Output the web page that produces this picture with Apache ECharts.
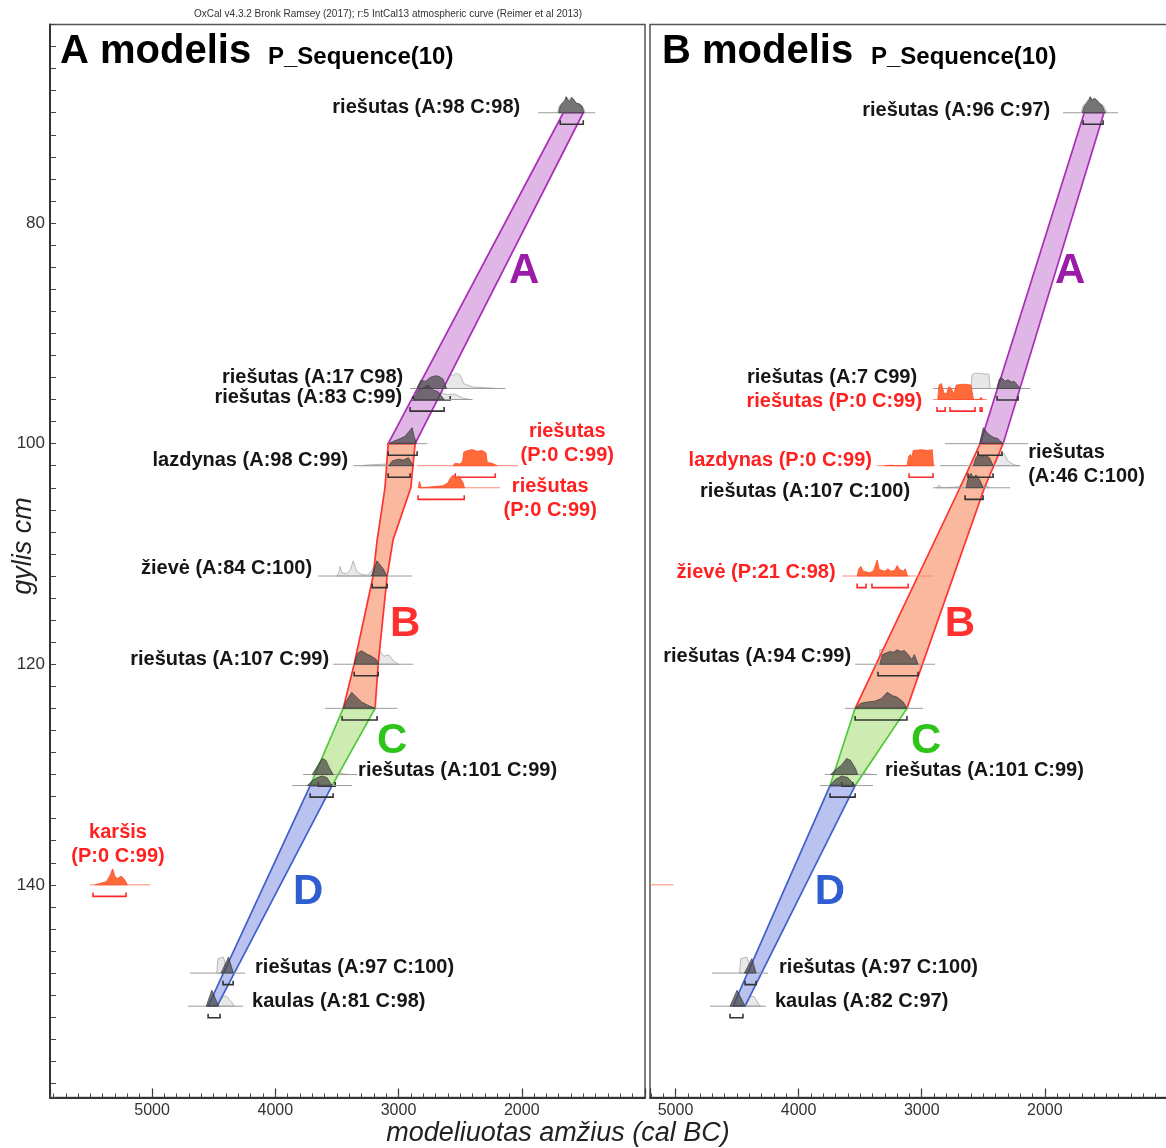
<!DOCTYPE html>
<html><head><meta charset="utf-8">
<script src="https://cdn.jsdelivr.net/npm/echarts@6/dist/echarts.min.js"></script>
<style>html,body{margin:0;padding:0;background:#fff}#c{width:1166px;height:1148px}</style>
</head><body><div id="c"></div>
<script>
// ---------- Tick labels / axes ----------
const xTickLabels = [5000, 4000, 3000, 2000];
const yTickLabels = [80, 100, 120, 140];

// ---------- Model A (left panel) ----------
const mA_names = ['riešutas (A:98 C:98)', 'riešutas (A:17 C98)', 'riešutas (A:83 C:99)', '', 'lazdynas (A:98 C:99)',
  'riešutas\n(P:0 C:99)', 'riešutas\n(P:0 C:99)', 'žievė (A:84 C:100)', 'riešutas (A:107 C:99)', '',
  'riešutas (A:101 C:99)', '', 'riešutas (A:97 C:100)', 'kaulas (A:81 C:98)', 'karšis\n(P:0 C:99)'];
const mA_outlier = [0,0,0,0,0,1,1,0,0,0,0,0,0,0,1];
const mA_depths = [70,95,96,100,102,102,104,112,120,124,130,131,148,151,140];
const mA_base = [[1867,1404],[2906,2134],[2889,2400],[3084,2767],[3368,2881],[2849,2029],[2841,2175],[3652,2889],
  [3531,2881],[3596,3011],[3774,3336],[3863,3376],[4692,4245],[4708,4261],[5503,5016]];
const mA_labelPos = [[2013,69.5],[2962,94.0],[2970,95.8],null,[3409,101.5],[1631,100],[1769,105],[3701,111.3],
  [3563,119.6],null,[3328,129.6],null,[4164,147.5],[4188,150.6],[5276,136.3]];
const mA_labelAlign = ['right','right','right','','right','center','center','right','right','','left','','left','left','center'];
const mA_unmod = [
  [[1710,0],[1695,.45],[1675,.6],[1650,.8],[1640,1],[1622,.8],[1600,.95],[1580,.85],[1555,.6],[1525,.5],[1500,.3],[1485,0]],
  [[2850,0],[2800,.3],[2720,.5],[2650,.45],[2590,.9],[2560,.8],[2530,.95],[2500,.85],[2470,.3],[2400,.1],[2300,.05],[2200,0]],
  [[2880,0],[2820,.5],[2760,.8],[2700,.5],[2600,.3],[2550,.35],[2480,.1],[2420,0]],
  null,
  [[3300,0],[3250,.05],[3100,.1],[3050,.4],[2980,.5],[2920,.6],[2890,.2],[2870,0]],
  null, null,
  [[3500,0],[3480,.3],[3474,.6],[3460,.2],[3420,.15],[3390,.4],[3368,.95],[3340,.3],[3300,.1],[3250,.05],[3220,.3],[3180,.9],[3150,.6],[3120,.3],[3090,0]],
  [[3360,0],[3330,.7],[3290,.85],[3250,.5],[3200,.6],[3160,.9],[3120,.5],[3080,.6],[3040,.2],[3000,0]],
  null,
  [[3680,0],[3640,.6],[3600,.8],[3560,.9],[3530,.3],[3450,.05],[3400,0]],
  null,
  [[4475,0],[4465,.9],[4420,1],[4400,.3],[4380,0]],
  [[4500,0],[4480,.5],[4440,.55],[4400,.65],[4360,.3],[4330,0]],
  null
];
const mA_mod = [
  [[1700,0],[1688,.4],[1670,.6],[1650,.75],[1640,1],[1625,.8],[1610,.7],[1595,.95],[1580,.85],[1560,.6],[1530,.55],[1510,.4],[1495,0]],
  [[2850,0],[2820,.5],[2780,.45],[2740,.7],[2700,.8],[2670,.75],[2640,.6],[2610,0]],
  [[2880,0],[2840,.6],[2800,.7],[2760,.9],[2720,.6],[2680,.5],[2630,0]],
  [[3075,0],[3040,.15],[2990,.3],[2950,.45],[2910,.8],[2890,1],[2875,.5],[2855,0]],
  [[3080,0],[3050,.3],[3000,.4],[2960,.35],[2920,.5],[2880,0]],
  [[2560,0],[2540,.15],[2500,.1],[2480,.3],[2470,.85],[2440,.95],[2400,1],[2360,.9],[2320,.95],[2290,.8],[2280,.2],[2240,.15],[2200,0]],
  [[2840,0],[2830,.4],[2815,0],[2750,.05],[2640,.12],[2600,.3],[2580,.6],[2555,.8],[2530,.6],[2510,.75],[2490,.5],[2475,.3],[2465,0]],
  [[3220,0],[3200,.4],[3175,.95],[3150,.7],[3120,.4],[3095,0]],
  [[3360,0],[3330,.7],[3300,.85],[3260,.65],[3220,.5],[3180,.3],[3160,0]],
  [[3450,0],[3420,.5],[3380,1],[3340,.7],[3300,.4],[3250,.2],[3190,0]],
  [[3700,0],[3660,.5],[3620,1],[3590,.9],[3560,.4],[3530,0]],
  [[3740,0],[3700,.3],[3660,.5],[3620,.6],[3580,.5],[3540,0]],
  [[4440,0],[4380,1],[4340,0]],
  [[4560,0],[4515,1],[4460,0]],
  [[5460,0],[5420,.1],[5370,.2],[5340,.6],[5320,1],[5300,.5],[5280,.4],[5250,.55],[5220,.3],[5200,0]]
];
const mA_brackets = [[[1688,1501]],[[2881,2581]],[[2906,2630]],[[3084,2849]],[[3084,2906]],[[2540,2215]],[[2841,2467]],
  [[3214,3092]],[[3360,3165]],[[3458,3174]],[[3652,3514]],[[3717,3531]],[[4424,4342]],[[4545,4448]],[[5479,5211]]];
// bands: [depth, left (older) edge, right (younger) edge]
const mA_bandA = [[70,1663,1501],[100,3084,2865]];
const mA_bandB = [[100,3084,2865],[104,3110,2900],[108.7,3173,3044],[112,3206,3092],[120,3360,3165],[124,3449,3190]];
const mA_bandC = [[124,3449,3190],[131,3717,3539]];
const mA_bandD = [[131,3717,3539],[151,4545,4472]];
const mA_letterPos = [[1980,84.4],[2946,116.4],[3052,127],[3734,140.7]];

// ---------- Model B (right panel) ----------
const mB_names = ['riešutas (A:96 C:97)', 'riešutas (A:7 C99)', 'riešutas (P:0 C:99)', '', 'lazdynas (P:0 C:99)',
  'riešutas\n(A:46 C:100)', 'riešutas (A:107 C:100)', 'žievė (P:21 C:98)', 'riešutas (A:94 C:99)', '',
  'riešutas (A:101 C:99)', '', 'riešutas (A:97 C:100)', 'kaulas (A:82 C:97)', ''];
const mB_outlier = [0,0,1,0,1,0,0,1,0,0,0,0,0,0,1];
const mB_depths = [70,95,96,100,102,102,104,112,120,124,130,131,148,151,140];
const mB_base = [[1852,1405],[2908,2120],[2908,2470],[2811,2136],[3363,2892],[2851,2201],[2908,2283],[3647,2908],
  [3541,2892],[3623,2989],[3785,3363],[3826,3396],[4703,4249],[4720,4265],[5503,5016]];
const mB_labelPos = [[1958,69.8],[3038,94.0],[2997,96.2],null,[3404,101.5],[2136,101.9],[3095,104.3],[3700,111.7],
  [3574,119.3],null,[3299,129.6],null,[4159,147.5],[4192,150.6],null];
const mB_labelAlign = ['right','right','right','','right','left','right','right','right','','left','','left','left',''];
const mB_unmod = [
  [[1705,0],[1690,.45],[1670,.6],[1650,.8],[1635,1],[1620,.8],[1600,.9],[1580,.8],[1555,.6],[1525,.45],[1495,0]],
  [[2600,0],[2592,.85],[2570,.95],[2530,.95],[2490,.9],[2455,.9],[2445,0]],
  null, null, null,
  [[2560,0],[2520,.5],[2470,.6],[2420,.55],[2380,.75],[2330,.75],[2300,.3],[2250,.05],[2200,0]],
  [[2880,0],[2860,.15],[2840,0],[2700,.05],[2650,.5],[2620,.75],[2580,.7],[2540,.8],[2500,.3],[2450,0]],
  null,
  [[3350,0],[3340,.9],[3300,.95],[3260,.9],[3220,.95],[3180,.85],[3140,.9],[3100,.5],[3050,.6],[3030,0]],
  null,
  [[3720,0],[3680,.5],[3630,.9],[3600,1],[3560,.9],[3520,.3],[3450,.05],[3400,0]],
  null,
  [[4480,0],[4470,.9],[4420,1],[4390,.3],[4370,0]],
  [[4500,0],[4470,.5],[4420,.6],[4360,.6],[4330,.2],[4310,0]],
  null
];
const mB_mod = [
  [[1695,0],[1680,.4],[1660,.6],[1640,.8],[1630,1],[1615,.75],[1598,.9],[1580,.8],[1560,.6],[1535,.45],[1510,0]],
  [[2390,0],[2370,.6],[2350,.65],[2320,.45],[2300,.55],[2270,.4],[2250,.45],[2220,.2],[2200,0]],
  [[2870,0],[2860,.9],[2840,1],[2820,.4],[2800,.35],[2780,.8],[2760,.7],[2740,.35],[2720,.9],[2680,.95],[2640,.95],[2600,.9],[2580,0],[2530,0],[2520,.15],[2505,0]],
  [[2530,0],[2500,1],[2460,.6],[2420,.4],[2380,.3],[2340,0]],
  [[3300,0],[3250,.03],[3200,0],[3120,0],[3105,.6],[3090,.7],[3080,.5],[3070,.95],[3000,1],[2950,.95],[2915,1],[2905,0]],
  [[2580,0],[2560,.5],[2540,.7],[2510,.6],[2480,.65],[2450,.5],[2420,0]],
  [[2640,0],[2620,.7],[2600,.9],[2580,.6],[2560,.8],[2530,.5],[2500,0]],
  [[3525,0],[3510,.45],[3495,.6],[3475,.3],[3420,.2],[3390,.35],[3375,.7],[3362,1],[3345,.4],[3300,.3],[3275,.45],[3250,.3],[3220,.35],[3200,.65],[3180,.4],[3150,.3],[3135,.45],[3115,0]],
  [[3340,0],[3320,.6],[3290,.7],[3260,.8],[3230,.75],[3200,.9],[3170,.8],[3140,.85],[3110,.6],[3080,.3],[3060,.6],[3040,.2],[3030,0]],
  [[3540,0],[3500,.3],[3440,.4],[3380,.45],[3330,.6],[3280,1],[3240,.8],[3200,.7],[3150,.4],[3120,0]],
  [[3740,0],[3700,.3],[3650,.6],[3610,1],[3580,.9],[3540,.4],[3520,0]],
  [[3745,0],[3700,.4],[3650,.6],[3600,.5],[3541,0]],
  [[4440,0],[4380,.9],[4345,0]],
  [[4557,0],[4500,1],[4435,0]],
  null
];
const mB_brackets = [[[1689,1527]],[[2388,2217]],[[2876,2810],[2770,2567],[2525,2510]],[[2542,2348]],[[3103,2908]],
  [[2624,2421]],[[2648,2502]],[[3525,3452],[3404,3111]],[[3355,3030]],[[3541,3120]],[[3650,3560]],[[3745,3541]],
  [[4435,4346]],[[4557,4452]],[]];
const mB_bandA = [[70,1680,1520],[100,2526,2339]];
const mB_bandB = [[100,2526,2339],[104,2690,2490],[124,3541,3120]];
const mB_bandC = [[124,3541,3120],[131,3745,3541]];
const mB_bandD = [[131,3745,3541],[151,4533,4435]];
const mB_letterPos = [[1795,84.4],[2689,116.4],[2965,127],[3745,140.7]];

const bandLetters = ['A','B','C','D'];

// ---------- styles ----------
const FONT = '"Liberation Sans", Arial, Helvetica, sans-serif';
const bandFill = ['#dcaee3','#f9b194','#c9eaa8','#b3bbed'];
const bandStroke = ['#a21caf','#ff2020','#3dc42a','#2f52c8'];
const letterColor = ['#9b1ca6','#ff3030','#2ec41a','#2f5ed0'];
const H = 1.45; // depth units for a full-height probability

const panelA = {names:mA_names, outlier:mA_outlier, depths:mA_depths, base:mA_base, labelPos:mA_labelPos,
  labelAlign:mA_labelAlign, unmod:mA_unmod, mod:mA_mod, brackets:mA_brackets,
  bands:[mA_bandA,mA_bandB,mA_bandC,mA_bandD], letters:mA_letterPos};
const panelB = {names:mB_names, outlier:mB_outlier, depths:mB_depths, base:mB_base, labelPos:mB_labelPos,
  labelAlign:mB_labelAlign, unmod:mB_unmod, mod:mB_mod, brackets:mB_brackets,
  bands:[mB_bandA,mB_bandB,mB_bandC,mB_bandD], letters:mB_letterPos};

function shapePts(api, arr, d) { return arr.map(p => api.coord([p[0], d - p[1] * H])); }

function unmodSeries(P, xi, yi) {
  return { type:'custom', xAxisIndex:xi, yAxisIndex:yi, clip:true, z:1, silent:true,
    data: P.depths.map((d,i) => [P.base[i][0], d]),
    renderItem: (params, api) => {
      const i = params.dataIndex, u = P.unmod[i];
      if (!u) return {type:'group', children:[]};
      return {type:'polygon', shape:{points:shapePts(api, u, P.depths[i])},
        style:{fill:'rgba(228,228,228,0.85)', stroke:'#a8a8a8', lineWidth:0.8}};
    }};
}
function bandSeries(P, xi, yi) {
  return { type:'custom', xAxisIndex:xi, yAxisIndex:yi, clip:true, z:2, silent:true,
    data: P.bands.map(b => [b[0][1], b[0][0]]),
    renderItem: (params, api) => {
      const k = params.dataIndex, b = P.bands[k];
      const pts = b.map(r => api.coord([r[1], r[0]])).concat(b.slice().reverse().map(r => api.coord([r[2], r[0]])));
      return {type:'polygon', shape:{points:pts},
        style:{fill:bandFill[k], opacity:0.9, stroke:bandStroke[k], lineWidth:1.7}};
    }};
}
function sampleSeries(P, xi, yi) {
  return { type:'custom', xAxisIndex:xi, yAxisIndex:yi, clip:true, z:3, silent:true,
    data: P.depths.map((d,i) => [P.base[i][0], d]),
    renderItem: (params, api) => {
      const i = params.dataIndex, d = P.depths[i], red = P.outlier[i] === 1;
      const kids = [];
      const b = P.base[i];
      const a1 = api.coord([b[0], d]), a2 = api.coord([b[1], d]);
      kids.push({type:'line', shape:{x1:a1[0], y1:a1[1], x2:a2[0], y2:a2[1]},
        style:{stroke: red ? '#ff8a7a' : '#9c9c9c', lineWidth:1}});
      if (P.mod[i]) kids.push({type:'polygon', shape:{points:shapePts(api, P.mod[i], d)},
        style: red ? {fill:'#ff6a3a', stroke:'#ff4a2a', lineWidth:0.8}
                   : {fill:'rgba(72,72,72,0.72)', stroke:'rgba(50,50,50,0.85)', lineWidth:0.8}});
      for (const s of P.brackets[i]) {
        const q1 = api.coord([s[0], d + 1.05]), q2 = api.coord([s[1], d + 1.05]);
        kids.push({type:'polyline', shape:{points:[[q1[0], q1[1]-4],[q1[0], q1[1]],[q2[0], q2[1]],[q2[0], q2[1]-4]]},
          style:{stroke: red ? '#ff2a2a' : '#333', lineWidth:1.6, fill:null}});
      }
      return {type:'group', children:kids};
    }};
}
function labelSeries(P, xi, yi) {
  const idx = P.labelPos.map((p,i) => p ? i : -1).filter(i => i >= 0);
  return { type:'custom', xAxisIndex:xi, yAxisIndex:yi, z:4, silent:true,
    data: idx.map(i => [P.labelPos[i][0], P.labelPos[i][1], i]),
    renderItem: (params, api) => {
      const i = api.value(2);
      const c = api.coord([api.value(0), api.value(1)]);
      return {type:'text', x:c[0], y:c[1], style:{text:P.names[i], fill: P.outlier[i] ? '#ff2020' : '#161616',
        fontSize:20, fontWeight:'bold', fontFamily:FONT, align:P.labelAlign[i], verticalAlign:'middle', lineHeight:24}};
    }};
}
function letterSeries(P, xi, yi) {
  return { type:'custom', xAxisIndex:xi, yAxisIndex:yi, z:4, silent:true,
    data: P.letters.map((p,k) => [p[0], p[1], k]),
    renderItem: (params, api) => {
      const k = api.value(2);
      const c = api.coord([api.value(0), api.value(1)]);
      return {type:'text', x:c[0], y:c[1], style:{text:bandLetters[k], fill:letterColor[k],
        fontSize:42, fontWeight:'bold', fontFamily:FONT, align:'center', verticalAlign:'middle'}};
    }};
}

function majorX(grid, max) {
  return { gridIndex:grid, type:'value', inverse:true, min:1000, max:max, interval:1000, position:'bottom',
    axisLine:{show:true, onZero:false, lineStyle:{color:'#333', width:2}},
    axisTick:{show:true, inside:true, length:9, lineStyle:{color:'#333', width:1.2}},
    axisLabel:{show:true, margin:5, fontSize:16, color:'#333', fontFamily:FONT,
      formatter: v => xTickLabels.some(t => Math.abs(t - v) < 1e-6) ? String(Math.round(v)) : ''},
    splitLine:{show:false} };
}
function minorX(grid, max) {
  return { gridIndex:grid, type:'value', inverse:true, min:1000, max:max, interval:100, position:'bottom',
    axisLine:{show:false}, axisTick:{show:true, inside:true, length:4, lineStyle:{color:'#444', width:1}},
    axisLabel:{show:false}, splitLine:{show:false} };
}

const chart = echarts.init(document.getElementById('c'), null, {renderer:'canvas'});
chart.setOption({
  animation:false,
  backgroundColor:'#fff',
  grid:[
    {left:50, top:24.5, width:595, height:1073, show:true, borderColor:'#555', borderWidth:1.5, outerBoundsMode:'none', containLabel:false},
    {left:650, top:24.5, width:518, height:1073, show:true, borderColor:'#555', borderWidth:1.5, outerBoundsMode:'none', containLabel:false}
  ],
  xAxis:[ majorX(0, 5828), minorX(0, 5828), majorX(1, 5207), minorX(1, 5207) ],
  yAxis:[
    { gridIndex:0, type:'value', inverse:true, min:62, max:159.28, interval:2,
      axisLine:{show:true, onZero:false, lineStyle:{color:'#333', width:2}},
      axisTick:{show:true, inside:true, length:6, lineStyle:{color:'#444', width:1}},
      axisLabel:{margin:5, fontSize:17, color:'#333', fontFamily:FONT,
        formatter: v => yTickLabels.some(t => Math.abs(t - v) < 1e-6) ? String(Math.round(v)) : ''},
      splitLine:{show:false} },
    { gridIndex:1, type:'value', inverse:true, min:62, max:159.28, interval:2, show:false }
  ],
  graphic:{ elements:[
    {type:'text', x:388, y:14, style:{text:'OxCal v4.3.2 Bronk Ramsey (2017); r:5 IntCal13 atmospheric curve (Reimer et al 2013)',
      fill:'#333', fontSize:10, fontFamily:FONT, align:'center', verticalAlign:'middle'}},
    {type:'text', x:60, y:52, style:{text:'A modelis', fill:'#000', fontSize:40, fontWeight:'bold', fontFamily:FONT, verticalAlign:'middle'}},
    {type:'text', x:268, y:57.5, style:{text:'P_Sequence(10)', fill:'#000', fontSize:24, fontWeight:'bold', fontFamily:FONT, verticalAlign:'middle'}},
    {type:'text', x:662, y:52, style:{text:'B modelis', fill:'#000', fontSize:40, fontWeight:'bold', fontFamily:FONT, verticalAlign:'middle'}},
    {type:'text', x:871, y:57.5, style:{text:'P_Sequence(10)', fill:'#000', fontSize:24, fontWeight:'bold', fontFamily:FONT, verticalAlign:'middle'}},
    {type:'text', x:558, y:1133, style:{text:'modeliuotas amžius (cal BC)', fill:'#222', fontSize:27, fontStyle:'italic', fontFamily:FONT, align:'center', verticalAlign:'middle'}},
    {type:'text', x:23, y:546, rotation:Math.PI/2, style:{text:'gylis cm', fill:'#222', fontSize:27, fontStyle:'italic', fontFamily:FONT, align:'center', verticalAlign:'middle'}}
  ]},
  series:[
    unmodSeries(panelA, 0, 0), bandSeries(panelA, 0, 0), sampleSeries(panelA, 0, 0), labelSeries(panelA, 0, 0), letterSeries(panelA, 0, 0),
    unmodSeries(panelB, 2, 1), bandSeries(panelB, 2, 1), sampleSeries(panelB, 2, 1), labelSeries(panelB, 2, 1), letterSeries(panelB, 2, 1)
  ]
});
</script></body></html>
